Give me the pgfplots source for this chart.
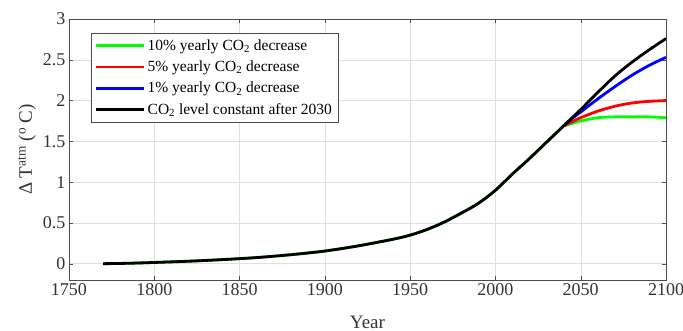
\documentclass[border=0pt]{standalone}
\usepackage{pgfplots}
\pgfplotsset{compat=1.18}
\usepackage{fontspec}
\setmainfont{Liberation Serif}

% common historical part, 1770-2040
\pgfplotstableread{
year val
1770 0
1780 0.003
1790 0.008
1800 0.015
1820 0.03
1840 0.05
1860 0.075
1880 0.11
1900 0.155
1920 0.22
1940 0.30
1950 0.35
1960 0.42
1970 0.51
1980 0.62
1990 0.74
2000 0.90
2010 1.10
2020 1.29
2030 1.49
2040 1.69
}\hist

\begin{document}
\begin{tikzpicture}
\path[use as bounding box] (-69pt,-51pt) rectangle (614pt,280pt);
\begin{axis}[
	width=597pt, height=261pt, scale only axis,
	xmin=1750, xmax=2100, ymin=-0.2, ymax=3,
	xtick={1750,1800,...,2100},
	ytick={0,0.5,...,3},
	grid=major,
	major grid style={gray!25},
	tick align=inside,
	axis line style={black!70},
	tick style={black!70},
	/pgf/number format/assume math mode=true,
	/pgf/number format/1000 sep={},
	ticklabel style={font=\fontsize{18}{20}\selectfont, text=black!80},
	xlabel={Year},
	ylabel={Δ T\textsuperscript{atm} (\textsuperscript{o} C)},
	every axis x label/.style={at={(rel axis cs:0.5,-0.161)}, anchor=center,
		font=\fontsize{19}{21}\selectfont, text=black!80},
	every axis y label/.style={at={(rel axis cs:-0.0704,0.5)}, rotate=90, anchor=center,
		font=\fontsize{19}{21}\selectfont, text=black!80},
	legend style={at={(0.0363,0.945)}, anchor=north west,
		font=\fontsize{15.5}{18}\selectfont, draw=black!70,
		row sep=5pt, inner xsep=4pt, inner ysep=4pt},
	legend cell align=left,
	legend image code/.code={\draw[#1, line width=2.8pt] (0pt,0pt) -- (48pt,0pt);},
]
\addplot[green, line width=2.8pt, smooth, forget plot] table {\hist};
\addplot[green, line width=2.8pt, smooth] coordinates {(2040,1.69) (2045,1.72) (2050,1.75) (2060,1.79) (2070,1.80) (2080,1.80) (2090,1.80) (2100,1.79)};
\addplot[red, line width=2.8pt, smooth] coordinates {(2040,1.69) (2045,1.74) (2050,1.79) (2060,1.87) (2070,1.93) (2080,1.97) (2090,1.99) (2100,2.00)};
\addplot[blue, line width=2.8pt, smooth] coordinates {(2040,1.69) (2045,1.78) (2050,1.86) (2060,2.02) (2070,2.17) (2080,2.31) (2090,2.43) (2100,2.53)};
\addplot[black, line width=2.8pt, smooth, forget plot] table {\hist};
\addplot[black, line width=2.8pt, smooth] coordinates {(2040,1.69) (2045,1.79) (2050,1.89) (2060,2.10) (2070,2.30) (2080,2.47) (2090,2.62) (2100,2.76)};
\legend{10\% yearly CO\textsubscript{2} decrease, 5\% yearly CO\textsubscript{2} decrease, 1\% yearly CO\textsubscript{2} decrease, CO\textsubscript{2} level constant after 2030}
\end{axis}
\end{tikzpicture}
\end{document}
